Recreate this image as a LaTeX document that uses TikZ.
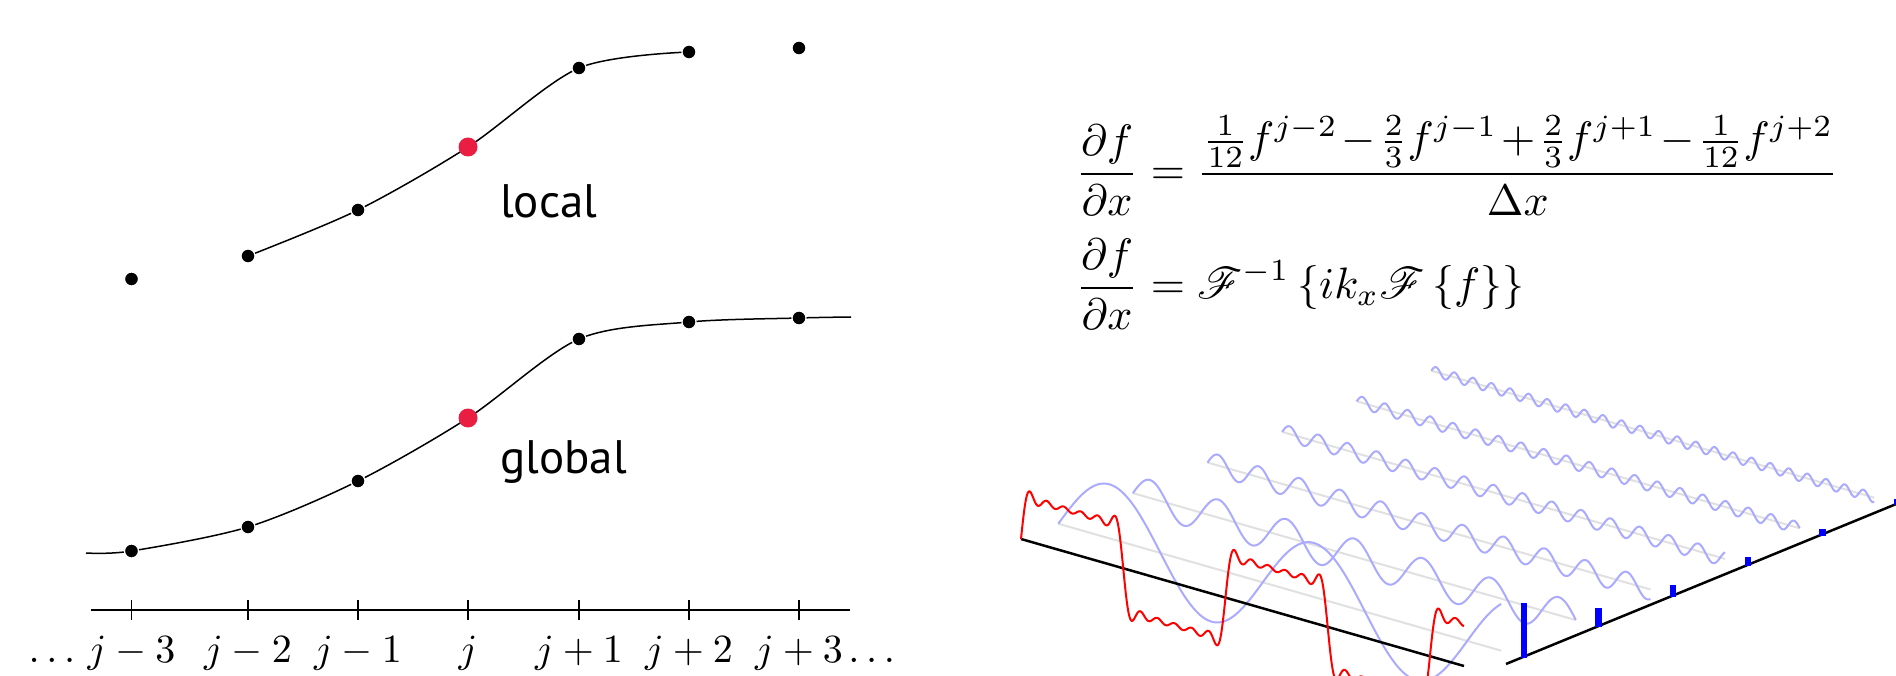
\documentclass[tikz,border=0pt]{standalone}
\usepackage{amsmath}
\IfFileExists{mathrsfs.sty}{\usepackage{mathrsfs}}{\newcommand\mathscr{\mathcal}}
\usepackage{fontspec}
\newfontfamily\labelfont{PT Sans}
\usetikzlibrary{calc}
\definecolor{dotred}{RGB}{234,30,66}
\definecolor{wavecol}{RGB}{170,170,255}
\definecolor{basecol}{RGB}{224,224,224}
\begin{document}
\begin{tikzpicture}[x=1pt,y=-1pt,
  dotnode/.style={circle,fill=black,draw=white,line width=1.2pt,minimum size=14,inner sep=0pt},
  reddot/.style={circle,fill=dotred,minimum size=19,inner sep=0pt},
  curveline/.style={line width=1.5pt,black},
  axisline/.style={line width=2pt,black},
  tickline/.style={line width=1.5pt,black},
  ticklabel/.style={anchor=base,inner sep=0pt,scale=4.0},
  wordlabel/.style={anchor=base west,inner sep=0pt,font=\labelfont\fontsize{47}{56}\selectfont},
  eqnode/.style={anchor=base west,inner sep=0pt,scale=4.4},
  baseln/.style={basecol,line width=2pt},
  wavesty/.style={wavecol,line width=2pt},
  squarewave/.style={red,line width=2pt},
  specbar/.style={fill=blue,draw=none},
  taxis/.style={black,line width=2.5pt}]
\useasboundingbox (0,0) rectangle (1896,676);
\clip (0,0) rectangle (1896,676);

% ---------- left: stencils ----------
\def\xs{{131.5,248,358,468,579,689,799}}
\def\ly{{279,256,210,147,68,52,48}}
\def\gy{{551,527,481,418,339,322,318}}
\foreach \i in {0,...,6}{
  \pgfmathsetmacro\cx{\xs[\i]}
  \pgfmathsetmacro\cl{\ly[\i]}
  \pgfmathsetmacro\cg{\gy[\i]}
  \coordinate (L\i) at (\cx,\cl);
  \coordinate (G\i) at (\cx,\cg);
  \coordinate (Tt\i) at (\cx,600);
  \coordinate (Tb\i) at (\cx,620);
  \coordinate (Lb\i) at (\cx,662);
}
\coordinate (gstart) at (86,553);
\coordinate (gend) at (851,317);
\coordinate (axL) at (91,610);
\coordinate (axR) at (850,610);

\draw[curveline] plot[smooth] coordinates {(L1) (L2) (L3) (L4) (L5)};
\draw[curveline] plot[smooth] coordinates {(gstart) (G0) (G1) (G2) (G3) (G4) (G5) (G6) (gend)};

\foreach \i in {0,1,2,4,5,6}{
  \node[dotnode] (nL\i) at (L\i) {};
  \node[dotnode] (nG\i) at (G\i) {};
}
\node[reddot] (nL3) at (L3) {};
\node[reddot] (nG3) at (G3) {};

\node[wordlabel] (local) at (500,218) {local};
\node[wordlabel] (global) at (500,473) {global};

\draw[axisline] (axL) -- (axR);
\foreach \i in {0,...,6}{ \draw[tickline] (Tt\i) -- (Tb\i); }
\node[ticklabel] (t0) at (Lb0) {$j-3$};
\node[ticklabel] (t1) at (Lb1) {$j-2$};
\node[ticklabel] (t2) at (Lb2) {$j-1$};
\node[ticklabel] (t3) at (Lb3) {$j$};
\node[ticklabel] (t4) at (Lb4) {$j+1$};
\node[ticklabel] (t5) at (Lb5) {$j+2$};
\node[ticklabel] (t6) at (Lb6) {$j+3$};
\node[ticklabel,anchor=base east] (dl) at ($(t0.base west)+(-4,0)$) {$\dots$};
\node[ticklabel,anchor=base west] (dr) at ($(t6.base east)+(4,0)$) {$\dots$};

% ---------- equations ----------
\node[eqnode] (eq1) at (1075,185) {$\medmuskip=1.5mu\displaystyle \frac{\partial f}{\partial x}=\frac{\frac{1}{12}f^{j-2}-\frac{2}{3}f^{j-1}+\frac{2}{3}f^{j+1}-\frac{1}{12}f^{j+2}}{\Delta x}$};
\node[eqnode] (eq2) at (1075,299) {$\displaystyle \frac{\partial f}{\partial x}=\mathscr{F}^{-1}\left\{ik_x\mathscr{F}\left\{f\right\}\right\}$};

% ---------- right: Fourier series ----------
\def\Ox{1021}\def\Oy{539}\def\Tx{443}\def\Ty{127}\def\Fx{74.6}\def\Fy{-30.6}\def\Amp{54}
\foreach \k in {0,...,5}{
  \pgfmathsetmacro\bx{\Ox+(\k+0.5)*\Fx}
  \pgfmathsetmacro\by{\Oy+(\k+0.5)*\Fy}
  \coordinate (B\k) at (\bx,\by);
  \coordinate (E\k) at (\bx+\Tx,\by+\Ty);
  \draw[baseln] (B\k) -- (E\k);
}
\foreach \k in {0,...,5}{
  \pgfmathsetmacro\bx{\Ox+(\k+0.5)*\Fx}
  \pgfmathsetmacro\by{\Oy+(\k+0.5)*\Fy}
  \pgfmathsetmacro\hn{2*\k+1}
  \draw[wavesty] plot[domain=0:1,samples=420,variable=\s]
    ({\bx+\s*\Tx},{\by+\s*\Ty-\Amp/\hn*sin(\hn*780*\s)});
}
\coordinate (O) at (\Ox,\Oy);
\coordinate (Tend) at (1464,666);
\draw[taxis] (O) -- (Tend);
\draw[squarewave] plot[domain=0:1,samples=900,variable=\s]
  ({\Ox+\s*\Tx},{\Oy+\s*\Ty-\Amp*(sin(780*\s)+sin(3*780*\s)/3+sin(5*780*\s)/5+sin(7*780*\s)/7+sin(9*780*\s)/9+sin(11*780*\s)/11)});

\coordinate (F0) at (1506,664);
\coordinate (F1) at (1906,500);
\draw[taxis] (F0) -- (F1);
\foreach \k in {0,...,5}{
  \pgfmathsetmacro\qx{1524+\k*\Fx}
  \pgfmathsetmacro\qy{657+\k*\Fy}
  \pgfmathsetmacro\qh{\Amp/(2*\k+1)}
  \fill[specbar] (\qx-3.2,\qy+1) rectangle (\qx+3.2,\qy-\qh);
}
\end{tikzpicture}
\end{document}
